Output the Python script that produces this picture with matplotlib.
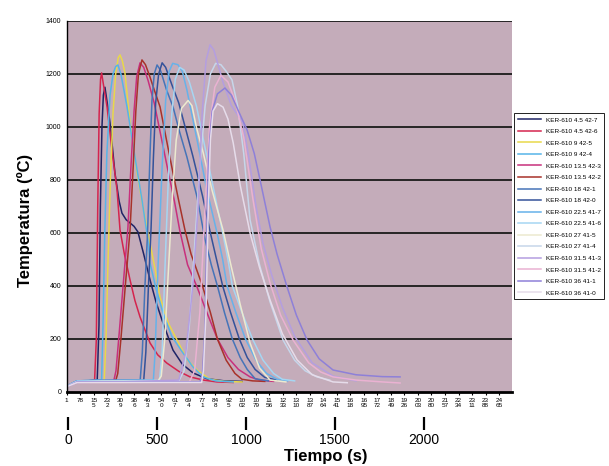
import matplotlib
matplotlib.use("Agg")
import matplotlib.pyplot as plt

plt.rcParams['font.family'] = ['Liberation Sans', 'DejaVu Sans']

# ---- data (time in s, temperature in ºC) ----
labels = ['KER-610 4.5 42-7', 'KER-610 4.5 42-6', 'KER-610 9 42-5', 'KER-610 9 42-4',
          'KER-610 13.5 42-3', 'KER-610 13.5 42-2', 'KER-610 18 42-1', 'KER-610 18 42-0',
          'KER-610 22.5 41-7', 'KER-610 22.5 41-6', 'KER-610 27 41-5', 'KER-610 27 41-4',
          'KER-610 31.5 41-3', 'KER-610 31.5 41-2', 'KER-610 36 41-1', 'KER-610 36 41-0']
colors = ['#1f2466', '#d4244e', '#e8d84a', '#56b4e8', '#c8307c', '#a8322a', '#4674b8', '#34529a',
          '#66b2ea', '#a6d6f2', '#ecead0', '#c6d6ea', '#b49ee0', '#eab2d2', '#8e80d8', '#e6dcea']

t_427 = [1, 50, 120, 175, 185, 193, 202, 210, 219, 230, 248, 276, 300, 316, 340, 362, 385, 407, 440, 476,
         510, 550, 607, 660, 721, 800, 900, 1000]
T_427 = [20, 38, 42, 45, 250, 700, 1000, 1120, 1150, 1100, 1015, 826, 720, 675, 650, 638, 625, 604, 520, 423,
         340, 260, 158, 105, 72, 50, 42, 40]

t_426 = [1, 60, 120, 160, 170, 178, 186, 194, 200, 208, 231, 259, 288, 305, 330, 362, 390, 419, 476, 520,
         572, 640, 704, 780, 858, 950]
T_426 = [22, 40, 42, 44, 200, 700, 1050, 1180, 1204, 1170, 1076, 913, 762, 611, 520, 423, 345, 283, 185, 140,
         109, 78, 57, 45, 38, 36]

t_425 = [1, 60, 150, 215, 225, 237, 250, 265, 280, 295, 305, 318, 333, 362, 402, 436, 464, 500, 533, 580,
         630, 690, 744, 817, 900, 1000]
T_425 = [20, 40, 42, 44, 200, 500, 800, 1050, 1200, 1262, 1272, 1250, 1204, 1015, 826, 698, 600, 480, 358, 260,
         196, 120, 83, 48, 40, 38]

t_424 = [1, 60, 150, 200, 208, 218, 230, 248, 265, 280, 293, 310, 345, 390, 430, 464, 476, 510, 550, 600,
         664, 720, 778, 850, 950]
T_424 = [22, 42, 44, 46, 250, 600, 900, 1120, 1200, 1228, 1234, 1200, 1076, 887, 725, 574, 487, 390, 298, 210,
         147, 95, 57, 42, 38]

t_423 = [1, 60, 150, 270, 282, 300, 325, 350, 368, 385, 400, 419, 440, 465, 500, 540, 580, 615, 645, 690,
         744, 800, 860, 920, 980, 1046, 1100, 1180]
T_423 = [22, 40, 42, 44, 80, 220, 420, 620, 860, 1060, 1190, 1242, 1225, 1175, 1090, 960, 830, 720, 611, 480,
         396, 300, 200, 130, 85, 57, 45, 40]

t_422 = [1, 60, 150, 280, 292, 310, 335, 362, 380, 395, 410, 430, 450, 475, 500, 533, 570, 607, 640, 675,
         710, 775, 820, 860, 910, 960, 1000, 1060, 1130]
T_422 = [20, 38, 40, 42, 70, 200, 400, 611, 850, 1060, 1200, 1253, 1235, 1190, 1140, 1076, 950, 826, 720, 611,
         520, 400, 300, 200, 120, 70, 48, 42, 40]

t_421 = [1, 60, 200, 420, 432, 447, 462, 475, 487, 500, 516, 535, 570, 607, 645, 686, 744, 790, 825, 860,
         900, 945, 990, 1030, 1075, 1150]
T_421 = [22, 42, 44, 45, 150, 400, 600, 880, 1100, 1200, 1234, 1215, 1140, 1076, 980, 887, 736, 574, 480, 400,
         300, 200, 130, 85, 50, 42]

t_420 = [1, 60, 200, 440, 452, 467, 482, 495, 508, 525, 545, 565, 600, 640, 680, 720, 775, 820, 855, 890,
         935, 985, 1030, 1075, 1130, 1200]
T_420 = [20, 40, 42, 44, 150, 400, 620, 880, 1090, 1200, 1242, 1225, 1160, 1090, 990, 890, 740, 600, 500, 400,
         300, 200, 130, 85, 55, 45]

t_417 = [1, 60, 200, 495, 505, 520, 545, 565, 585, 605, 635, 660, 686, 744, 800, 858, 890, 915, 965, 1020,
         1080, 1140, 1200, 1260]
T_417 = [22, 42, 44, 45, 150, 450, 850, 1100, 1210, 1240, 1235, 1210, 1140, 951, 762, 600, 500, 400, 300, 200,
         120, 70, 48, 42]

t_416 = [1, 60, 200, 530, 545, 560, 580, 600, 620, 645, 670, 700, 740, 790, 840, 890, 920, 945, 1000, 1060,
         1120, 1180, 1230, 1300]
T_416 = [20, 40, 42, 44, 150, 450, 800, 1050, 1180, 1225, 1215, 1170, 1080, 920, 760, 600, 500, 400, 300, 200,
         120, 70, 48, 42]

t_415 = [1, 60, 200, 520, 540, 560, 580, 600, 625, 655, 693, 715, 740, 780, 830, 892, 940, 990, 1046, 1100,
         1160, 1250]
T_415 = [20, 38, 40, 40, 60, 200, 450, 700, 950, 1070, 1100, 1080, 1000, 900, 760, 611, 470, 330, 185, 90,
         45, 38]

t_414 = [1, 60, 300, 640, 670, 700, 730, 760, 790, 820, 850, 880, 910, 943, 975, 1010, 1046, 1100, 1160, 1234,
         1300, 1360, 1427, 1500]
T_414 = [22, 40, 40, 42, 80, 250, 550, 850, 1080, 1200, 1240, 1235, 1210, 1178, 1080, 900, 650, 480, 340, 196,
         120, 80, 57, 45]

t_413 = [1, 60, 300, 640, 680, 720, 750, 773, 795, 818, 840, 870, 893, 940, 1006, 1040, 1080, 1120, 1170, 1230,
         1300, 1400, 1519, 1650]
T_413 = [20, 36, 38, 45, 150, 400, 700, 1050, 1250, 1310, 1290, 1220, 1166, 1080, 1015, 880, 700, 560, 440, 320,
         210, 110, 60, 42]

t_412 = [1, 60, 300, 700, 730, 760, 790, 815, 845, 880, 920, 960, 1010, 1063, 1110, 1160, 1220, 1291, 1380, 1450,
         1519, 1650, 1800, 1901]
T_412 = [20, 36, 36, 38, 80, 300, 700, 1000, 1150, 1195, 1170, 1100, 960, 725, 540, 411, 290, 196, 110, 75,
         57, 45, 38, 34]

t_411 = [1, 60, 300, 760, 775, 790, 800, 810, 830, 860, 903, 940, 980, 1029, 1070, 1103, 1160, 1200, 1257, 1310,
         1371, 1440, 1519, 1650, 1800, 1901]
T_411 = [20, 38, 38, 38, 70, 250, 611, 900, 1060, 1125, 1147, 1120, 1060, 989, 900, 800, 623, 520, 396, 290,
         196, 125, 83, 65, 58, 57]

t_410 = [1, 60, 300, 770, 780, 795, 808, 820, 835, 860, 892, 920, 950, 990, 1046, 1100, 1160, 1230, 1314, 1400,
         1519, 1600]
T_410 = [20, 36, 36, 36, 80, 300, 700, 950, 1060, 1088, 1075, 1030, 940, 780, 600, 470, 347, 220, 121, 65,
         38, 35]

times = [t_427, t_426, t_425, t_424, t_423, t_422, t_421, t_420,
         t_417, t_416, t_415, t_414, t_413, t_412, t_411, t_410]
temps = [T_427, T_426, T_425, T_424, T_423, T_422, T_421, T_420,
         T_417, T_416, T_415, T_414, T_413, T_412, T_411, T_410]

# category labels of the original Excel axis (every 77 s)
cat_ticks = list(range(1, 2466, 77))
y_ticks = [0, 200, 400, 600, 800, 1000, 1200, 1400]
sec_ticks = [0, 500, 1000, 1500, 2000]


def cat_label(v):
    s = str(v)
    if len(s) <= 2:
        return s
    return s[:2] + '\n' + s[2:]


fig = plt.figure(figsize=(6.09, 4.66), dpi=100)
ax = fig.add_axes([0.1095, 0.1588, 0.7307, 0.7962])
ax.set_facecolor('#c4acba')

for yv in y_ticks[1:]:
    ax.axhline(yv, color='#1a1a1a', lw=1.3, zorder=1)

for t, T, c, lab in zip(times, temps, colors, labels):
    ax.plot(t, T, color=c, lw=1.1, label=lab, zorder=2)

ax.set_xlim(1, 2537)
ax.set_ylim(0, 1400)
ax.set_yticks(y_ticks)
ax.set_yticklabels([str(v) for v in y_ticks], fontsize=5)
ax.tick_params(axis='y', length=0, pad=4)
ax.set_xticks(cat_ticks)
ax.set_xticklabels([cat_label(v) for v in cat_ticks], fontsize=4.6, linespacing=1.15)
ax.tick_params(axis='x', length=2.5, width=0.8, pad=1.5)
for side in ['top', 'right']:
    ax.spines[side].set_visible(False)
ax.spines['left'].set_linewidth(1.0)
ax.spines['bottom'].set_linewidth(2.0)

# second scale in seconds drawn under the category labels
sec = ax.secondary_xaxis(-0.068, functions=(lambda s: (s - 10.1) / 1.0128,
                                            lambda b: 10.1 + 1.0128 * b))
sec.set_xticks(sec_ticks)
sec.set_xticklabels([str(v) for v in sec_ticks], fontsize=10)
sec.tick_params(length=9, width=1.6, pad=2, direction='out')
sec.spines['bottom'].set_visible(False)

fig.text(326 / 609, 1 - 457 / 466, 'Tiempo (s)', ha='center', va='center',
         fontsize=12, fontweight='bold')
fig.text(25 / 609, 1 - 220 / 466, 'Temperatura (ºC)', ha='center', va='center',
         rotation=90, fontsize=12, fontweight='bold')

leg = fig.legend(loc='upper left', bbox_to_anchor=(511 / 609, 1 - 110 / 466),
                 fontsize=4.6, handlelength=3.6, labelspacing=0.95, borderpad=0.6,
                 handletextpad=0.7, fancybox=False, framealpha=1)
leg.get_frame().set_edgecolor('#222222')
leg.get_frame().set_linewidth(0.7)

fig.savefig('out.png', dpi=100)
